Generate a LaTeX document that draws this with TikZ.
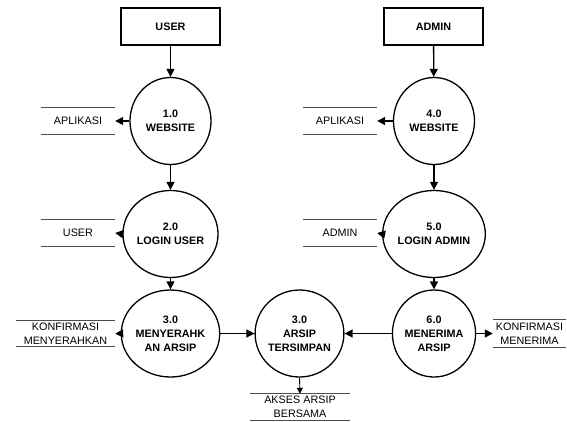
\documentclass[tikz,border=0pt]{standalone}
\usepackage{fontspec}
\setmainfont{Liberation Sans}
\usetikzlibrary{shapes.geometric,arrows.meta}
\begin{document}
\begin{tikzpicture}[x=1pt,y=-1pt,
  proc/.style={draw,ellipse,line width=1.3pt,minimum width=81pt,minimum height=87pt,inner sep=0pt,align=center,font=\fontsize{10.8}{14}\selectfont\bfseries},
  ent/.style={draw,rectangle,line width=1.3pt,minimum width=99pt,minimum height=37pt,inner sep=0pt,font=\fontsize{10.8}{14}\selectfont\bfseries},
  store/.style={rectangle,inner sep=0pt,align=center,font=\fontsize{10.8}{14}\selectfont},
  sline/.style={line width=0.9pt,draw=black!70},
  arr/.style={line width=1.3pt,-{Triangle[length=8pt,width=8pt]}}
]
\useasboundingbox (0,0) rectangle (567,421);
% entities
\node[ent] (user) at (170.5,26.5) {USER};
\node[ent] (admin) at (433.5,26.5) {ADMIN};
% processes
\node[proc] (p1) at (170.5,121) {1.0\\WEBSITE};
\node[proc] (p2) at (170.5,234) {2.0\\LOGIN USER};
\node[proc] (p3) at (170.5,333.5) {3.0\\MENYERAHK\\AN ARSIP};
\node[proc] (p7) at (299.5,333.5) {3.0\\ARSIP\\TERSIMPAN};
\node[proc] (p4) at (434,121) {4.0\\WEBSITE};
\node[proc] (p5) at (434,234) {5.0\\LOGIN ADMIN};
\node[proc] (p6) at (434,333.5) {6.0\\MENERIMA\\ARSIP};
% stores
\node[store,minimum width=74pt,minimum height=26pt] (s1) at (78,121) {APLIKASI};
\node[store,minimum width=74pt,minimum height=26pt] (s2) at (78,233) {USER};
\node[store,minimum width=99pt,minimum height=26pt] (s3) at (65.5,333.7) {KONFIRMASI\\MENYERAHKAN};
\node[store,minimum width=74pt,minimum height=26pt] (s4) at (340,121) {APLIKASI};
\node[store,minimum width=74pt,minimum height=26pt] (s5) at (340,233) {ADMIN};
\node[store,minimum width=73pt,minimum height=27pt] (s6) at (529.5,333.5) {KONFIRMASI\\MENERIMA};
\node[store,minimum width=100pt,minimum height=26pt] (s7) at (300,407) {AKSES ARSIP\\BERSAMA};
\foreach \s in {s1,s2,s3,s4,s5,s6,s7}{
  \draw[sline] (\s.north west) -- (\s.north east);
  \draw[sline] (\s.south west) -- (\s.south east);
}
% flows
\draw[arr] (user) -- (p1);
\draw[arr] (p1) -- (p2);
\draw[arr] (p2) -- (p3);
\draw[arr] (admin) -- (p4);
\draw[arr] (p4) -- (p5);
\draw[arr] (p5) -- (p6);
\draw[arr] (p1.west) -- (s1.east);
\draw[arr] (p2.west) -- (s2.east);
\draw[arr] (p3.west) -- (s3.east);
\draw[arr] (p4.west) -- (s4.east);
\draw[arr] (p5.west) -- (s5.east);
\draw[arr] (p6.east) -- (s6.west);
\draw[arr] (p3.east) -- (p7.west);
\draw[arr] (p6.west) -- (p7.east);
\draw[arr,line width=0.9pt,-{Triangle[length=6pt,width=6pt]}] (p7.south) -- (s7.north);
\end{tikzpicture}
\end{document}
